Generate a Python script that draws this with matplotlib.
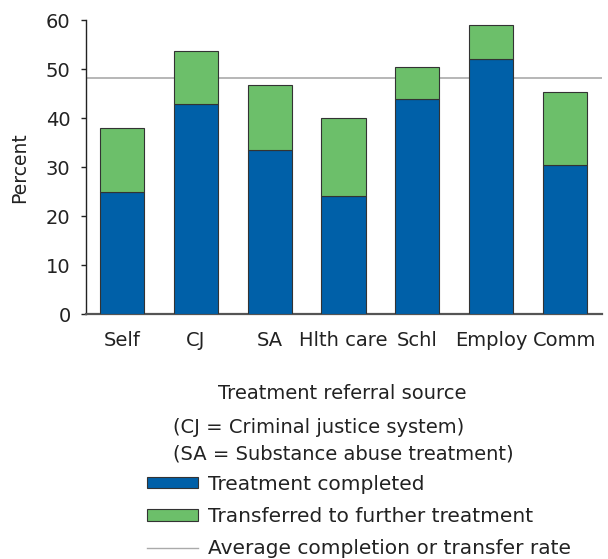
import matplotlib
matplotlib.use("Agg")
import matplotlib.pyplot as plt
from matplotlib.lines import Line2D
from matplotlib.patches import Patch

categories = ["Self", "CJ", "SA", "Hlth care", "Schl", "Employ", "Comm"]
completed = [24.9, 42.8, 33.4, 24.2, 43.8, 52.1, 30.4]
transferred = [13.1, 10.8, 13.4, 15.8, 6.6, 6.8, 14.9]
average_rate = 48.2
yticks = [0, 10, 20, 30, 40, 50, 60]

blue = "#0060A8"
green = "#6CBF6A"
edge = "#333333"
txt = "#222222"

plt.rcParams["font.family"] = ["DejaVu Sans"]

W, H = 608, 559
fig = plt.figure(figsize=(W / 100, H / 100), dpi=100)
left, right, bottom, top = 86 / W, 601.7 / W, 1 - 314.3 / H, 1 - 20 / H
ax = fig.add_axes([left, bottom, right - left, top - bottom])

x = list(range(len(categories)))
ax.bar(x, completed, width=0.6, color=blue, edgecolor=edge, linewidth=0.8, zorder=3)
ax.bar(x, transferred, width=0.6, bottom=completed, color=green, edgecolor=edge, linewidth=0.8, zorder=3)
ax.axhline(average_rate, color="#AAAAAA", linewidth=1.2, zorder=2)

ax.set_xlim(-0.49, 6.5)
ax.set_ylim(0, 60)
ax.set_yticks(yticks)
ax.set_xticks(x)
ax.set_xticklabels(categories, fontsize=14, color=txt)
ax.tick_params(axis="x", length=0, pad=12)
ax.tick_params(axis="y", length=3.6, width=1, labelsize=14, labelcolor=txt, color="#222222", pad=7.5)
for s in ["top", "right"]:
    ax.spines[s].set_visible(False)
ax.spines["left"].set_color("#222222")
ax.spines["left"].set_linewidth(1.0)
ax.spines["bottom"].set_color("#555555")
ax.spines["bottom"].set_linewidth(1.6)
ax.set_ylabel("Percent", fontsize=13.5, color=txt)
ax.yaxis.set_label_coords((19.5 - 86) / (601.7 - 86), 0.5)
ax.yaxis.label.set_va("center")
ax.yaxis.label.set_ha("center")

fig.text(342 / W, 1 - 399 / H, "Treatment referral source", ha="center", va="baseline", fontsize=14, color=txt)
fig.text(173 / W, 1 - 432.7 / H, "(CJ = Criminal justice system)", ha="left", va="baseline", fontsize=14, color=txt)
fig.text(173 / W, 1 - 459.3 / H, "(SA = Substance abuse treatment)", ha="left", va="baseline", fontsize=14, color=txt)

lfs = 14.5
fpx = lfs * 100 / 72
handles = [
    Patch(facecolor=blue, edgecolor=edge, linewidth=0.8),
    Patch(facecolor=green, edgecolor=edge, linewidth=0.8),
    Line2D([0], [0], color="#AAAAAA", linewidth=1.0),
]
labels = ["Treatment completed", "Transferred to further treatment", "Average completion or transfer rate"]
fig.legend(handles, labels, loc="upper left", bbox_to_anchor=(146.7 / W, 1 - 474.5 / H),
           frameon=False, fontsize=lfs, handlelength=51 / fpx, handleheight=10 / fpx,
           handletextpad=10.3 / fpx, labelspacing=0.67, borderpad=0, borderaxespad=0,
           labelcolor=txt)

fig.savefig("out.png", dpi=100)
